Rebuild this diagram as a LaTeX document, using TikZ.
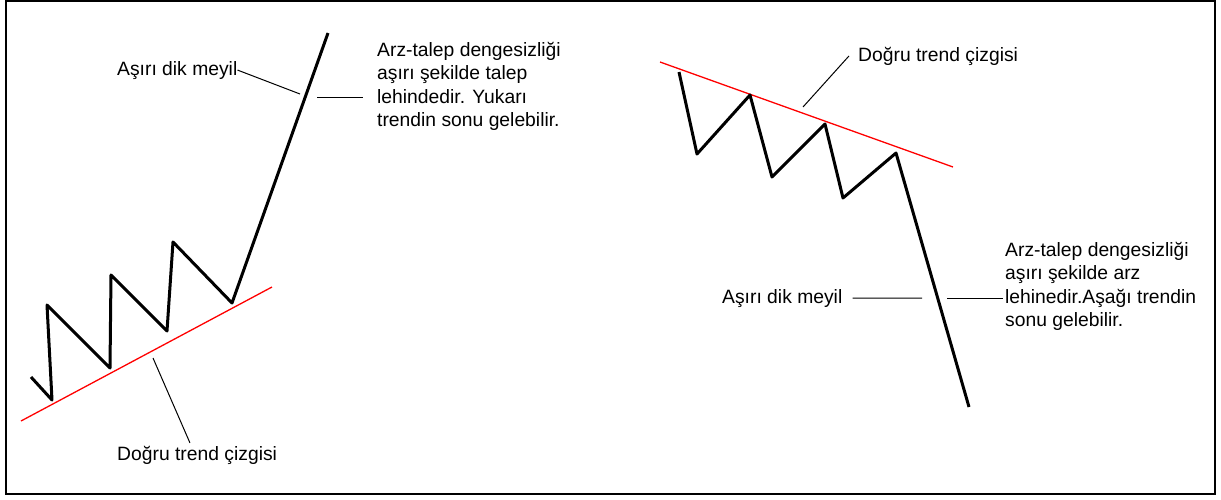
\documentclass[tikz,border=0pt]{standalone}
\usepackage{fontspec}
\setmainfont{Liberation Sans}
\usepackage{tikz}
\colorlet{trendcol}{red}
\colorlet{pricecol}{black}
\def\fsize{19.3}
\def\fskip{23.3}

\begin{document}
\begin{tikzpicture}[x=1pt, y=-1pt,
  price/.style={line width=3pt, pricecol, line join=round},
  trend/.style={line width=1.3pt, trendcol},
  leader/.style={line width=1pt, black},
  lbl/.style={inner sep=0pt, font=\fontsize{\fsize}{\fskip}\selectfont},
  note/.style={lbl, align=left}]
  \useasboundingbox (0,0) rectangle (1221,499);
  \draw[line width=2pt] (6,1) rectangle (1215,494);

  % yukari trend
  \draw[trend] (21,421) -- (272,287);
  \draw[price] (31,377) -- (52,400) -- (47,305) -- (110,368) -- (111,275)
    -- (167,331) -- (173,242) -- (232,303) -- (328,33);

  \node[lbl, anchor=base west] (lsteep) at (117,75) {Aşırı dik meyil};
  % base = baseline of the last line
  \node[note, anchor=base west] (lnote) at (377,126.3) {Arz-talep dengesizliği\\aşırı şekilde talep\\lehindedir. Yukarı\\trendin sonu gelebilir.};
  \node[lbl, anchor=base west] (ltrend) at (117,460) {Doğru trend çizgisi};

  \coordinate (lsteeppt) at (300,94);
  \coordinate (lnotept) at (317,97);
  \coordinate (ltrendpt) at (153,358);
  \draw[leader] (lsteep.east) -- (lsteeppt);
  \draw[leader, shorten >=14pt] (lnotept) -- (lnote.west |- lnotept);
  \draw[leader, shorten >=3pt] (ltrendpt) -- ([xshift=-6pt]ltrend.north);

  % asagi trend
  \draw[trend] (660,62) -- (953,167);
  \draw[price] (679,72) -- (697,154) -- (750,95) -- (772,177) -- (825,124)
    -- (843,198) -- (896,153) -- (969,407);

  \node[lbl, anchor=base west] (rtrend) at (858,61) {Doğru trend çizgisi};
  \node[lbl, anchor=base west] (rsteep) at (722,303) {Aşırı dik meyil};
  \node[note, anchor=base west] (rnote) at (1005,326.3) {Arz-talep dengesizliği\\aşırı şekilde arz\\lehinedir.Aşağı trendin\\sonu gelebilir.};

  \coordinate (rtrendpt) at (803,107);
  \coordinate (rsteeppt) at (922,298);
  \coordinate (rnotept) at (947,298);
  \draw[leader] (rtrendpt) -- ([xshift=-9pt]rtrend.west);
  \draw[leader] ([xshift=10pt]rsteep.east) -- (rsteeppt);
  \draw[leader, shorten >=2pt] (rnotept) -- (rnote.west |- rnotept);
\end{tikzpicture}
\end{document}
